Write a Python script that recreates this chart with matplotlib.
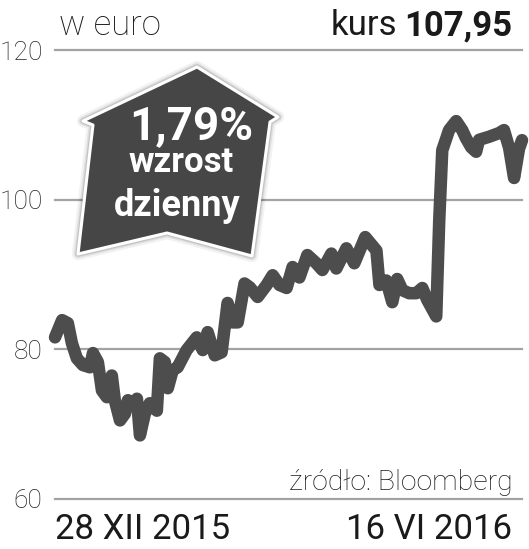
import matplotlib
matplotlib.use("Agg")
import matplotlib.pyplot as plt
from matplotlib.patches import Polygon

plt.rcParams['font.family'] = ['Roboto', 'DejaVu Sans']

# ---- data (days since 28 XII 2015, price in EUR) ----
days = [0, 2.6, 4.7, 6.2, 8.0, 10.2, 12.8, 13.9, 15.7, 17.2, 19.0, 20.8, 21.9, 23.8,
        25.6, 26.7, 28.5, 30.0, 31.1, 32.9, 34.7, 37.3, 38.4, 40.2, 41.3, 43.1, 44.9,
        48.2, 51.9, 54.1, 55.9, 58.5, 61.0, 63.2, 65.0, 66.9, 69.4, 71.3, 74.2, 77.5,
        79.7, 82.2, 84.8, 87.0, 89.5, 92.4, 95.7, 97.9, 101.2, 103.0, 106.7, 109.6,
        113.6, 117.7, 118.8, 121.3, 123.5, 125.3, 127.2, 129.7, 132.3, 134.5, 136.3,
        139.6, 140.7, 141.8, 144.3, 146.9, 149.1, 150.5, 152.4, 154.2, 155.3, 158.9,
        162.6, 164.4, 166.3, 168.1, 169.9, 171.0]
prices = [81.6, 83.9, 83.5, 80.8, 78.8, 77.9, 77.6, 79.5, 78.3, 74.5, 73.6, 76.5, 73.2, 70.5,
          71.4, 73.2, 72.5, 73.4, 68.5, 71.4, 72.8, 71.8, 78.8, 78.3, 74.8, 77.2, 77.6,
          79.9, 81.6, 79.9, 82.3, 79.2, 79.6, 86.2, 83.6, 83.6, 88.8, 88.3, 87.0, 88.6,
          89.9, 88.6, 88.2, 91.0, 89.6, 92.6, 91.5, 90.6, 92.8, 90.8, 93.5, 91.5,
          95.0, 93.2, 88.6, 89.2, 86.3, 89.4, 87.9, 87.5, 87.5, 88.2, 86.6,
          84.4, 97.3, 106.6, 109.3, 110.5, 109.3, 108.2, 107.0, 106.4, 108.0, 108.4,
          108.9, 109.3, 106.9, 102.9, 106.8, 107.95]
y_ticks = [60, 80, 100, 120]
x_tick_pos = [0, 167.3]
x_tick_labels = ["28 XII 2015", "16 VI 2016"]
title_left = "w euro"
kurs_label = "kurs"
kurs_value = "107,95"
badge_lines = ["1,79%", "wzrost", "dzienny"]
source = "źródło: Bloomberg"

W, H = 529, 549
fig = plt.figure(figsize=(W / 100, H / 100), dpi=100)
fig.patch.set_facecolor('white')


def fx(x):
    return x / W


def fy(y):
    return 1 - y / H


ax = fig.add_axes([fx(55), fy(499), fx(522) - fx(55), fy(50) - fy(499)])
ax.set_xlim(0, 171)
ax.set_ylim(60, 120)
for s in ax.spines.values():
    s.set_visible(False)

ax.set_yticks(y_ticks)
ax.set_yticklabels([str(v) for v in y_ticks], fontsize=19, fontweight='light', color='#222222')
ax.tick_params(axis='y', length=0, pad=9)
for v in y_ticks:
    ax.axhline(v, color='#a3a3a3', lw=1.6, zorder=1, clip_on=False)

ax.set_xticks(x_tick_pos)
ax.set_xticklabels(x_tick_labels, fontsize=25, color='#1a1a1a')
ax.tick_params(axis='x', length=0, pad=10)
xl = ax.get_xticklabels()
xl[0].set_horizontalalignment('left')
xl[1].set_horizontalalignment('right')

ax.plot(days, prices, color='#4d4d4d', lw=9, solid_joinstyle='round',
        solid_capstyle='round', zorder=3, clip_on=False)

# ---- badge (arrow-shaped house) ----
verts = [(197, 67), (278, 117), (270, 122), (252, 256), (167, 233),
         (78, 254), (93, 125), (83, 121)]
fverts = [(fx(x), fy(y)) for x, y in verts]
for lw, a in [(9, 0.05), (6, 0.08), (4, 0.12)]:
    fig.patches.append(Polygon(fverts, closed=True, transform=fig.transFigure,
                               facecolor='none', edgecolor='#000000', lw=lw,
                               alpha=a, joinstyle='round', zorder=5))
fig.patches.append(Polygon(fverts, closed=True, transform=fig.transFigure,
                           facecolor='#464646', edgecolor='white', lw=2.2,
                           joinstyle='round', zorder=6))

fig.text(fx(191), fy(139), badge_lines[0], fontsize=33, fontweight='bold',
         color='white', ha='center', va='baseline', zorder=7)
fig.text(fx(181), fy(172), badge_lines[1], fontsize=25, fontweight='bold',
         color='white', ha='center', va='baseline', zorder=7)
fig.text(fx(177), fy(216), badge_lines[2], fontsize=26, fontweight='bold',
         color='white', ha='center', va='baseline', zorder=7)

# ---- header / footer texts ----
fig.text(fx(59), fy(35), title_left, fontsize=25, fontweight='light',
         color='#1a1a1a', ha='left', va='baseline')
fig.text(fx(512), fy(35), kurs_value, fontsize=25, fontweight='bold',
         color='#1a1a1a', ha='right', va='baseline')
fig.text(fx(397), fy(35), kurs_label, fontsize=25, fontweight='normal',
         color='#1a1a1a', ha='right', va='baseline')
fig.text(fx(513), fy(490), source, fontsize=20.5, fontweight='light',
         color='#1a1a1a', ha='right', va='baseline')

fig.savefig('out.png', dpi=100, facecolor='white')
